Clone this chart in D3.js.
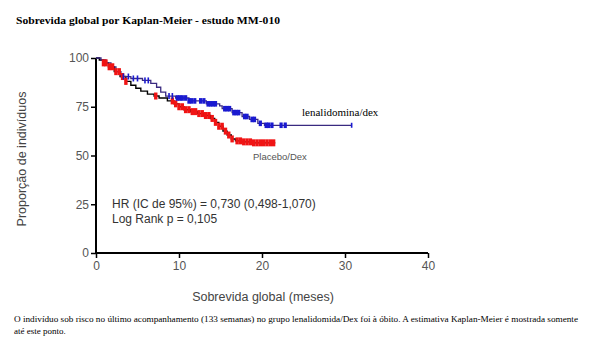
<!DOCTYPE html>
<html>
<head>
<meta charset="utf-8">
<script src="https://cdn.jsdelivr.net/npm/d3@7"></script>
<style>
html,body{margin:0;padding:0;background:#fff;}
svg{display:block;}
</style>
</head>
<body>
<svg id="chart" width="595" height="340"></svg>
<script>
// ---- data ----
const xTicks = [0, 10, 20, 30, 40];
const yTicks = [0, 25, 50, 75, 100];

// Placebo/Dex Kaplan-Meier steps (months, % surviving)
const placeboTimes = [0, 0.4, 0.9, 1.5, 2.2, 2.9, 3.6, 4.2, 4.8, 5.4, 6.2, 7.0, 7.6, 8.6, 9.4, 10.0, 10.6, 11.4, 12.2, 13.0, 13.8, 14.3, 14.8, 15.3, 15.8, 16.3, 16.8, 17.5, 19.0, 21.6];
const placeboSurv  = [100, 99, 97.5, 95.5, 93, 90.5, 88, 86, 84.5, 83, 81.5, 80.5, 79.5, 78, 76.5, 75, 73.5, 72.5, 71.5, 70.5, 69, 67, 65, 62.5, 60.5, 58.5, 57.5, 57, 56.5, 56.5];
const placeboCensor = [0.9, 1.2, 1.6, 2.0, 2.4, 2.8, 3.2, 3.6, 7.2, 9.2, 9.6, 10.0, 10.4, 10.8, 11.2, 11.6, 12.0, 12.4, 12.8, 13.2, 13.6, 14.0, 14.4, 14.8, 15.2, 15.6, 16.0, 16.4, 17.0, 17.4, 17.8, 18.2, 18.6, 19.0, 19.4, 19.8, 20.2, 20.6, 21.0, 21.4];

// Lenalidomida/Dex Kaplan-Meier steps
const lenaTimes = [0, 0.6, 1.2, 1.8, 2.4, 3.0, 4.2, 5.6, 6.6, 7.3, 7.8, 8.4, 9.6, 11.2, 13.3, 14.9, 15.2, 16.4, 17.6, 18.5, 19.5, 20.3, 30.8];
const lenaSurv  = [100, 99, 97.5, 95.5, 93, 90.5, 89.5, 88.5, 87, 85, 82.5, 80.5, 79.5, 78, 76.5, 75.5, 74, 72, 70, 68.5, 66.5, 65.5, 65.5];
const lenaCensorEarly = [3.3, 3.9, 4.5, 5.0, 5.9, 6.3, 8.8, 9.2];
const lenaCensor = [9.8, 10.1, 10.4, 10.8, 11.2, 11.5, 11.9, 12.6, 13.0, 13.5, 13.8, 14.1, 14.4, 15.5, 15.8, 16.1, 16.6, 16.9, 17.2, 17.9, 18.2, 18.8, 19.1, 19.8, 20.5, 20.8, 21.2, 22.3, 22.8];
const lenaCensorLast = [30.8];

const titleText = "Sobrevida global por Kaplan-Meier - estudo MM-010";
const xLabel = "Sobrevida global (meses)";
const yLabel = "Proporção de indivíduos";
const annotLines = ["HR (IC de 95%) = 0,730 (0,498-1,070)", "Log Rank p = 0,105"];
const seriesLabels = ["lenalidomina/dex", "Placebo/Dex"];
const footLines = ["O indivíduo sob risco no último acompanhamento (133 semanas) no grupo lenalidomida/Dex foi à óbito. A estimativa Kaplan-Meier é mostrada somente", "até este ponto."];

// ---- layout ----
const svg = d3.select("#chart");
const x = d3.scaleLinear().domain([0, 40]).range([96, 428]);
const y = d3.scaleLinear().domain([0, 100]).range([253, 58]);

function stepVal(times, vals, t) {
  let v = vals[0];
  for (let i = 0; i < times.length; i++) { if (times[i] <= t) v = vals[i]; }
  return v;
}

// title
svg.append("text").attr("x", 16).attr("y", 24)
  .attr("font-family", "Liberation Serif, Times New Roman, serif")
  .attr("font-weight", "bold").attr("font-size", 11).attr("fill", "#000")
  .attr("textLength", 264).attr("lengthAdjust", "spacingAndGlyphs")
  .text(titleText);

// axes
const gx = svg.append("g").attr("transform", `translate(0,${y(0)})`)
  .call(d3.axisBottom(x).tickValues(xTicks).tickSize(5).tickPadding(3));
const gy = svg.append("g").attr("transform", `translate(${x(0)},0)`)
  .call(d3.axisLeft(y).tickValues(yTicks).tickSize(5).tickPadding(2));
[gx, gy].forEach(g => {
  g.select(".domain").attr("stroke", "#000").attr("stroke-width", 2);
  g.selectAll(".tick line").attr("stroke", "#000").attr("stroke-width", 1.5);
  g.selectAll(".tick text").attr("font-family", "Liberation Sans, Arial, sans-serif")
    .attr("font-size", 12).attr("fill", "#555");
});
gx.select(".domain").attr("d", `M${x(0)},0H${x(40)}`);
gy.select(".domain").attr("d", `M0,${y(0)}V${y(100)}`);

// axis titles
svg.append("text").attr("x", 263).attr("y", 301).attr("text-anchor", "middle")
  .attr("font-family", "Liberation Sans, Arial, sans-serif").attr("font-size", 12.5).attr("fill", "#444")
  .text(xLabel);
svg.append("text").attr("transform", "translate(26,159) rotate(-90)").attr("text-anchor", "middle")
  .attr("font-family", "Liberation Sans, Arial, sans-serif").attr("font-size", 12.5).attr("fill", "#444")
  .text(yLabel);

// curves
const line = d3.line().curve(d3.curveStepAfter).x(d => x(d[0])).y(d => y(d[1]));
const placeboPts = placeboTimes.map((t, i) => [t, placeboSurv[i]]);
const lenaPts = lenaTimes.map((t, i) => [t, lenaSurv[i]]);

svg.append("path").datum(placeboPts).attr("d", line)
  .attr("fill", "none").attr("stroke", "#000").attr("stroke-width", 1.4);
svg.append("path").datum(lenaPts).attr("d", line)
  .attr("fill", "none").attr("stroke", "#3a2a80").attr("stroke-width", 1.3);

// censor marks
svg.append("g").selectAll("rect").data(placeboCensor).join("rect")
  .attr("x", d => x(d) - 1.7).attr("width", 3.4)
  .attr("y", d => y(stepVal(placeboTimes, placeboSurv, d)) - 3.5).attr("height", 7)
  .attr("fill", "#f01414");
svg.append("g").selectAll("rect").data(lenaCensorEarly).join("rect")
  .attr("x", d => x(d) - 0.8).attr("width", 1.6)
  .attr("y", d => y(stepVal(lenaTimes, lenaSurv, d)) - 3).attr("height", 6)
  .attr("fill", "#1a1ad0");
svg.append("g").selectAll("rect").data(lenaCensor).join("rect")
  .attr("x", d => x(d) - 1.6).attr("width", 3.2)
  .attr("y", d => y(stepVal(lenaTimes, lenaSurv, d)) - 2.8).attr("height", 5.6)
  .attr("fill", "#1a1ad0");
svg.append("g").selectAll("rect").data(lenaCensorLast).join("rect")
  .attr("x", d => x(d) - 0.8).attr("width", 1.6)
  .attr("y", d => y(stepVal(lenaTimes, lenaSurv, d)) - 2.5).attr("height", 5)
  .attr("fill", "#1a1ad0");

// series labels
svg.append("text").attr("x", 302).attr("y", 116)
  .attr("font-family", "Liberation Serif, Times New Roman, serif").attr("font-size", 11).attr("fill", "#000")
  .text(seriesLabels[0]);
svg.append("text").attr("x", 253).attr("y", 160)
  .attr("font-family", "Liberation Sans, Arial, sans-serif").attr("font-size", 9.5).attr("fill", "#555")
  .text(seriesLabels[1]);

// annotation
annotLines.forEach((t, i) => {
  svg.append("text").attr("x", 112).attr("y", 208 + i * 15)
    .attr("font-family", "Liberation Sans, Arial, sans-serif").attr("font-size", 12).attr("fill", "#333")
    .text(t);
});

// footnote
footLines.forEach((t, i) => {
  const el = svg.append("text").attr("x", 14).attr("y", 322 + i * 12)
    .attr("font-family", "Liberation Serif, Times New Roman, serif").attr("font-size", 9).attr("fill", "#000")
    .text(t);
  if (i === 0) el.attr("textLength", 564).attr("lengthAdjust", "spacingAndGlyphs");
});
</script>
</body>
</html>
